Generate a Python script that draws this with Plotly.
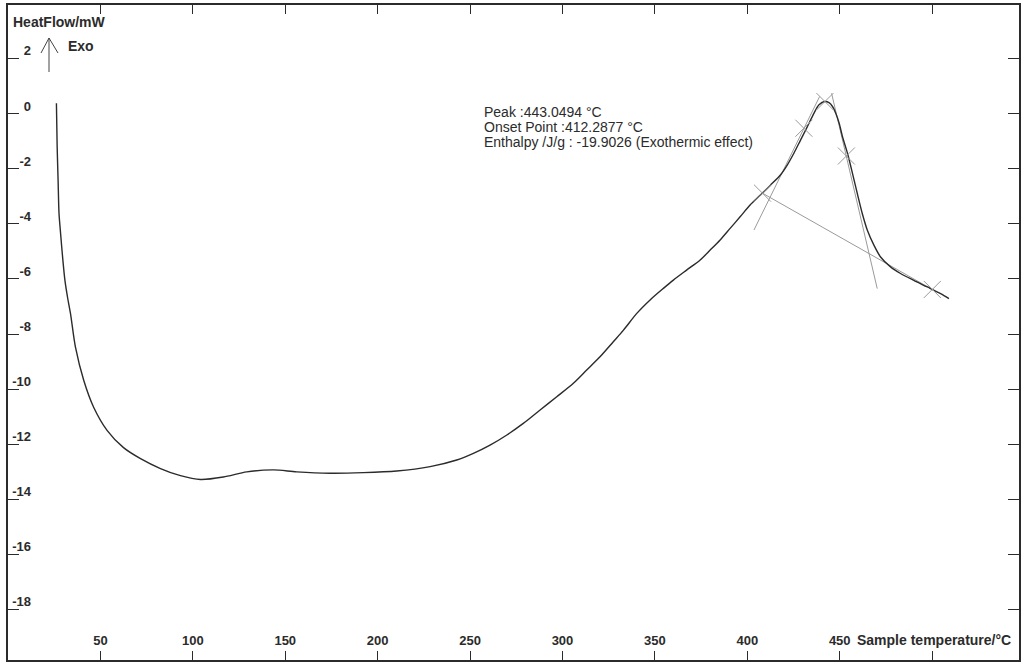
import plotly.graph_objects as go

# ---- data ----
temp_c = [26.2, 26.6, 27.1, 27.6, 28.4, 29.6, 30.8, 32.3, 33.8, 36.5, 41.0, 46.4, 53.7,
          62.5, 71.7, 82.5, 93.3, 104.2, 116.5, 129.2, 143.6, 156.2, 174.2,
          192.3, 210.3, 228.4, 242.8, 251.8, 260.8, 269.9, 278.8, 287.9, 296.9, 305.9,
          313.1, 320.3, 327.5, 333.0, 340.2, 347.4, 354.6, 360.0, 367.3, 374.5, 379.9,
          385.3, 390.7, 396.1, 401.5, 407.1, 412.5, 417.9, 421.6, 425.2, 428.8, 432.5,
          436.1, 438.8, 441.9, 444.2, 446.1, 447.9, 449.7, 451.5, 454.2, 456.9, 459.5,
          462.2, 464.9, 468.5, 472.1, 477.5, 482.9, 490.1, 497.4, 504.6, 509.1]
heat_flow = [0.39, -1.19, -2.40, -3.61, -4.30, -5.25, -6.05, -6.70, -7.25, -8.48, -9.69,
             -10.67, -11.51, -12.13, -12.53, -12.89, -13.15, -13.29, -13.20,
             -13.01, -12.94, -13.01, -13.06, -13.04, -12.98, -12.82, -12.58, -12.34, -12.04,
             -11.67, -11.25, -10.76, -10.28, -9.79, -9.31, -8.83, -8.28, -7.86, -7.25,
             -6.76, -6.34, -6.04, -5.67, -5.31, -4.95, -4.58, -4.16, -3.74, -3.31, -2.95,
             -2.59, -2.22, -1.86, -1.43, -0.95, -0.46, 0.03, 0.33, 0.45, 0.41, 0.27, 0.02,
             -0.34, -0.83, -1.43, -2.16, -2.89, -3.62, -4.22, -4.77, -5.20, -5.56, -5.80,
             -6.05, -6.29, -6.53, -6.71]

baseline_x = [408.2, 500.1]
baseline_y = [-2.88, -6.38]
tangent_left_x = [403.6, 439.1]
tangent_left_y = [-4.22, 0.63]
tangent_right_x = [445.6, 470.3]
tangent_right_y = [0.75, -6.35]
cross_x = [408.2, 430.6, 442.0, 453.6, 500.1]
cross_y = [-2.88, -0.52, 0.45, -1.53, -6.38]

x_tick_vals = [50, 100, 150, 200, 250, 300, 350, 400, 450, 500]
x_tick_text = ["50", "100", "150", "200", "250", "300", "350", "400", "450", ""]
y_tick_vals = [2, 0, -2, -4, -6, -8, -10, -12, -14, -16, -18]
y_tick_text = ["2", "0", "-2", "-4", "-6", "-8", "-10", "-12", "-14", "-16", "-18"]

info_lines = ["Peak :443.0494 °C",
              "Onset Point :412.2877 °C",
              "Enthalpy /J/g : -19.9026 (Exothermic effect)"]

X_RANGE = [0, 547]
Y_RANGE = [-19.85, 3.96]

# ---- figure ----
W, H = 1025, 663
ML, MR, MT, MB = 8, 6, 5, 3
PW, PH = W - ML - MR, H - MT - MB


def px(xp):
    return (xp - ML) / PW


def py(yp):
    return (H - MB - yp) / PH


INK = "#2b2b2b"
GRAY = "#9a9a9a"
FAM = "Liberation Sans, Arial, sans-serif"
TICKF = dict(family=FAM, size=13, color=INK, weight="bold")
BOLD = dict(family=FAM, size=14, color=INK, weight="bold")
REG = dict(family=FAM, size=14, color=INK)

fig = go.Figure()

for xs, ys in [(baseline_x, baseline_y), (tangent_left_x, tangent_left_y),
               (tangent_right_x, tangent_right_y)]:
    fig.add_trace(go.Scatter(x=xs, y=ys, mode="lines",
                             line=dict(color=GRAY, width=1), hoverinfo="skip",
                             showlegend=False))

fig.add_trace(go.Scatter(x=temp_c, y=heat_flow, mode="lines",
                         line=dict(color=INK, width=1.4, shape="spline", smoothing=0.8),
                         showlegend=False))

fig.add_trace(go.Scatter(x=cross_x, y=cross_y, mode="markers", yaxis="y2",
                         marker=dict(symbol="x-thin", size=17,
                                     line=dict(color=GRAY, width=1)),
                         showlegend=False, hoverinfo="skip"))

fig.update_layout(
    width=W, height=H,
    margin=dict(l=ML, r=MR, t=MT, b=MB, pad=0),
    paper_bgcolor="white", plot_bgcolor="white",
    showlegend=False,
    xaxis=dict(range=X_RANGE, showgrid=False, zeroline=False,
               showline=True, linecolor=INK, linewidth=1.5, mirror="ticks",
               ticks="inside", ticklen=9, tickwidth=1.2, tickcolor=INK,
               tickvals=x_tick_vals, ticktext=x_tick_text,
               ticklabelposition="inside", ticklabelstandoff=3, tickfont=TICKF),
    yaxis=dict(range=Y_RANGE, showgrid=False, zeroline=False,
               showline=True, linecolor=INK, linewidth=1.5, mirror="ticks",
               ticks="inside", ticklen=11, tickwidth=1.2, tickcolor=INK,
               tickvals=y_tick_vals, showticklabels=False),
    yaxis2=dict(range=Y_RANGE, overlaying="y", anchor="free", side="left",
                position=px(31), showgrid=False, zeroline=False, showline=False,
                ticks="", tickvals=y_tick_vals, ticktext=y_tick_text, tickfont=TICKF,
                ticklabelshift=-8, ticklabelstandoff=0),
)

# Exo arrow (decoration)
ax0, ay0, ay1 = px(49), py(72), py(38)
fig.add_shape(type="path", xref="paper", yref="paper",
              path=f"M {ax0} {ay0} L {ax0} {ay1} M {px(41)} {py(53)} L {ax0} {ay1} L {px(58)} {py(53)}",
              line=dict(color="#444", width=1))

fig.add_annotation(text="HeatFlow/mW", xref="paper", yref="paper", x=px(11), y=py(22),
                   xanchor="left", yanchor="middle", showarrow=False, font=BOLD)
fig.add_annotation(text="Exo", xref="paper", yref="paper", x=px(66), y=py(46),
                   xanchor="left", yanchor="middle", showarrow=False, font=BOLD)
fig.add_annotation(text="Sample temperature/°C", xref="paper", yref="paper",
                   x=px(1013), y=py(640), xanchor="right", yanchor="middle",
                   showarrow=False, font=BOLD)

for i, line in enumerate(info_lines):
    fig.add_annotation(text=line, xref="paper", yref="paper", x=px(482),
                       y=py(111.5 + 15.5 * i), xanchor="left", yanchor="middle",
                       showarrow=False, font=REG)

fig.write_html("out.html")
